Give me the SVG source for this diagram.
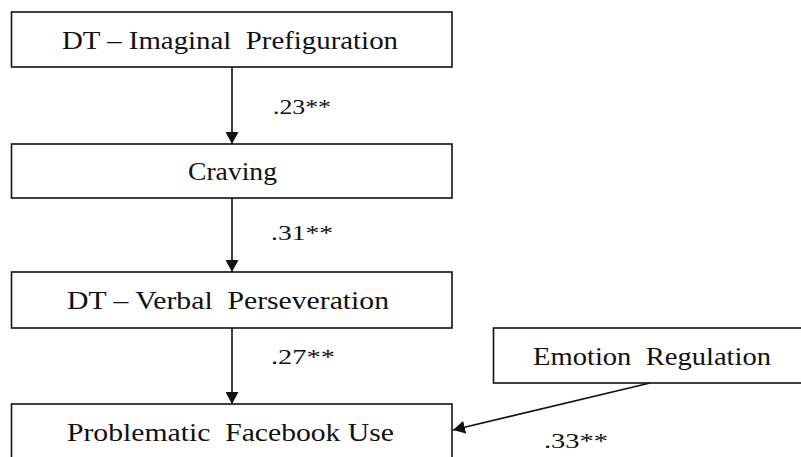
<svg xmlns="http://www.w3.org/2000/svg" width="801" height="457" viewBox="0 0 801 457">
<style>
.box{fill:#fff;stroke:#111;stroke-width:1.6}
.t{font-family:'Liberation Serif','Times New Roman',serif;font-size:26px;fill:#111}
.l{font-family:'Liberation Serif','Times New Roman',serif;font-size:22px;fill:#111}
.c{stroke:#111;stroke-width:1.6;fill:none}
</style>
<defs>
<marker id="ah" viewBox="0 0 12 13" refX="12" refY="6.5" markerWidth="12" markerHeight="13" markerUnits="userSpaceOnUse" orient="auto">
<path d="M0,0 L12,6.5 L0,13 Z" fill="#111"/>
</marker>
</defs>
<rect width="801" height="457" fill="#fff"/>
<g id="connectors">
<line class="c" x1="232" y1="67" x2="232" y2="144" marker-end="url(#ah)"/>
<line class="c" x1="232" y1="198" x2="232" y2="272" marker-end="url(#ah)"/>
<line class="c" x1="232" y1="328" x2="232" y2="404" marker-end="url(#ah)"/>
<line class="c" x1="650" y1="383" x2="453" y2="430" marker-end="url(#ah)"/>
<text class="l" x="273" y="114" textLength="58" lengthAdjust="spacingAndGlyphs">.23**</text>
<text class="l" x="271" y="240" textLength="62" lengthAdjust="spacingAndGlyphs">.31**</text>
<text class="l" x="271" y="364" textLength="64" lengthAdjust="spacingAndGlyphs">.27**</text>
<text class="l" x="544" y="448" textLength="64" lengthAdjust="spacingAndGlyphs">.33**</text>
</g>
<g id="n1">
<rect class="box" x="11.5" y="12" width="440.5" height="55"/>
<text class="t" x="62" y="49" textLength="336" lengthAdjust="spacingAndGlyphs" xml:space="preserve">DT – Imaginal  Prefiguration</text>
</g>
<g id="n2">
<rect class="box" x="11.5" y="144" width="440.5" height="54"/>
<text class="t" x="188" y="180" textLength="89" lengthAdjust="spacingAndGlyphs">Craving</text>
</g>
<g id="n3">
<rect class="box" x="11.5" y="272" width="440.5" height="56"/>
<text class="t" x="67" y="309" textLength="322" lengthAdjust="spacingAndGlyphs" xml:space="preserve">DT – Verbal  Perseveration</text>
</g>
<g id="n4">
<rect class="box" x="11.5" y="404" width="440.5" height="70"/>
<text class="t" x="67" y="441" textLength="327" lengthAdjust="spacingAndGlyphs" xml:space="preserve">Problematic  Facebook Use</text>
</g>
<g id="n5">
<rect class="box" x="493.5" y="328" width="320" height="55"/>
<text class="t" x="533" y="365" textLength="238" lengthAdjust="spacingAndGlyphs" xml:space="preserve">Emotion  Regulation</text>
</g>
</svg>
